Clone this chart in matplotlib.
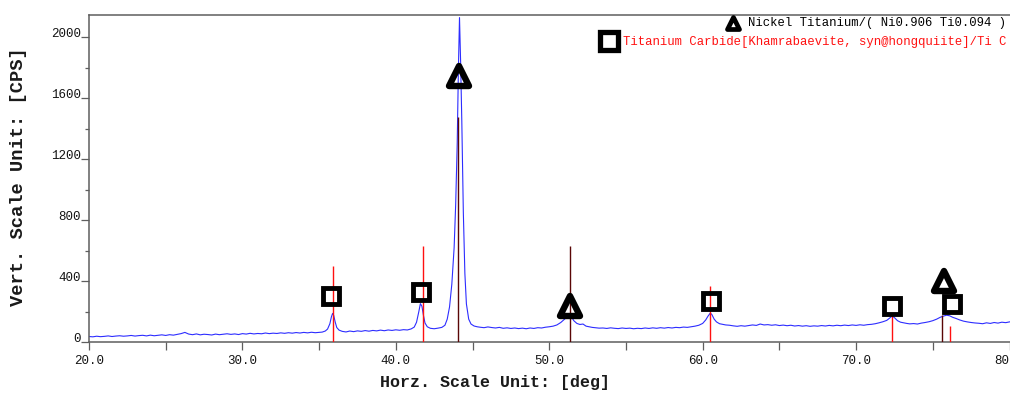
"""XRD pattern: NiTi / TiC phase identification."""

import matplotlib

matplotlib.use("Agg")
import matplotlib.pyplot as plt
import numpy as np
from matplotlib.markers import MarkerStyle

scan_deg = [
    20.0, 20.25, 20.5, 20.75, 21.0, 21.25, 21.5, 21.75, 22.0, 22.25,
    22.5, 22.75, 23.0, 23.25, 23.5, 23.75, 24.0, 24.25, 24.5, 24.75,
    25.0, 25.25, 25.5, 25.75, 26.0, 26.25, 26.5, 26.75, 27.0, 27.25,
    27.5, 27.75, 28.0, 28.25, 28.5, 28.75, 29.0, 29.25, 29.5, 29.75,
    30.0, 30.25, 30.5, 30.75, 31.0, 31.25, 31.5, 31.75, 32.0, 32.25,
    32.5, 32.75, 33.0, 33.25, 33.5, 33.75, 34.0, 34.25, 34.5, 34.75,
    35.0, 35.2, 35.4, 35.55, 35.7, 35.8, 35.88, 35.95, 36.05, 36.15,
    36.3, 36.5, 36.75, 37.0, 37.25, 37.5, 37.75, 38.0, 38.25, 38.5,
    38.75, 39.0, 39.25, 39.5, 39.75, 40.0, 40.25, 40.5, 40.75, 41.0,
    41.2, 41.35, 41.5, 41.6, 41.7, 41.8, 41.9, 42.05, 42.25, 42.5,
    42.75, 43.0, 43.2, 43.35, 43.5, 43.65, 43.8, 43.9, 44.0, 44.08,
    44.15, 44.22, 44.3, 44.4, 44.5, 44.6, 44.75, 44.9, 45.1, 45.3,
    45.5, 45.75, 46.0, 46.25, 46.5, 46.75, 47.0, 47.25, 47.5, 47.75,
    48.0, 48.25, 48.5, 48.75, 49.0, 49.25, 49.5, 49.75, 50.0, 50.25,
    50.5, 50.75, 51.0, 51.15, 51.3, 51.45, 51.6, 51.8, 52.0, 52.2,
    52.4, 52.6, 52.8, 53.0, 53.25, 53.5, 53.75, 54.0, 54.25, 54.5,
    54.75, 55.0, 55.25, 55.5, 55.75, 56.0, 56.25, 56.5, 56.75, 57.0,
    57.25, 57.5, 57.75, 58.0, 58.25, 58.5, 58.75, 59.0, 59.25, 59.5,
    59.75, 60.0, 60.2, 60.35, 60.5, 60.6, 60.75, 60.9, 61.1, 61.3,
    61.5, 61.75, 62.0, 62.25, 62.5, 62.75, 63.0, 63.25, 63.5, 63.75,
    64.0, 64.25, 64.5, 64.75, 65.0, 65.25, 65.5, 65.75, 66.0, 66.25,
    66.5, 66.75, 67.0, 67.25, 67.5, 67.75, 68.0, 68.25, 68.5, 68.75,
    69.0, 69.25, 69.5, 69.75, 70.0, 70.25, 70.5, 70.75, 71.0, 71.25,
    71.5, 71.75, 72.0, 72.2, 72.35, 72.5, 72.7, 72.9, 73.1, 73.3,
    73.5, 73.75, 74.0, 74.25, 74.5, 74.75, 75.0, 75.25, 75.5, 75.7,
    75.9, 76.1, 76.3, 76.5, 76.75, 77.0, 77.25, 77.5, 77.75, 78.0,
    78.25, 78.5, 78.75, 79.0, 79.25, 79.5, 79.75, 80.0,
]
scan_cps = [
    36, 34, 38, 35, 37, 40, 36, 39, 41, 38,
    40, 43, 39, 42, 44, 40, 45, 41, 44, 47,
    43, 48, 45, 50, 55, 63, 52, 48, 53, 47,
    51, 49, 46, 52, 48, 51, 54, 50, 53, 49,
    55, 52, 57, 53, 56, 54, 59, 55, 58, 56,
    60, 57, 61, 58, 62, 59, 63, 60, 64, 61,
    63, 65, 72, 85, 120, 165, 188, 175, 130, 95,
    78, 70, 66, 72, 68, 73, 70, 75, 71, 76,
    73, 78, 74, 79, 76, 80, 77, 81, 79, 86,
    98, 130, 200, 252, 235, 175, 125, 100, 90, 87,
    91, 96, 110, 150, 230, 380, 620, 900, 1300, 1800,
    2130, 1850, 1450, 850, 450, 250, 150, 118, 105, 100,
    97, 94, 99, 95, 92, 96, 90, 93, 89, 92,
    88, 91, 87, 92, 89, 94, 92, 97, 100, 104,
    112, 128, 150, 165, 178, 165, 140, 122, 115, 118,
    104, 100, 96, 94, 91, 92, 89, 93, 90, 88,
    92, 89, 91, 87, 90, 88, 92, 89, 93, 90,
    94, 91, 95, 92, 96, 94, 98, 96, 100, 104,
    110, 122, 145, 170, 190, 180, 150, 132, 120, 116,
    112, 110, 106, 103, 107, 104, 108, 112, 109, 118,
    112, 114, 110, 113, 108, 111, 107, 110, 105, 108,
    104, 107, 103, 106, 104, 108, 105, 109, 106, 110,
    107, 111, 108, 112, 109, 113, 110, 114, 116, 120,
    126, 133, 142, 158, 171, 160, 140, 130, 126, 122,
    119, 121, 118, 124, 128, 133, 140, 150, 163, 170,
    176, 172, 162, 155, 145, 137, 132, 128, 125, 123,
    120, 126, 122, 128, 124, 130, 127, 132,
]

# reference card lines
niti_ref_deg = [44.06, 51.34, 75.61]
niti_ref_cps = [1480, 630, 175]
tic_ref_deg = [35.92, 41.74, 60.46, 72.33, 76.11]
tic_ref_cps = [500, 630, 368, 175, 105]

# phase markers placed on the peaks
niti_mark_deg = [44.13, 51.38, 75.71]
niti_mark_cps = [1746, 236, 400]
tic_mark_deg = [35.78, 41.61, 60.57, 72.36, 76.25]
tic_mark_cps = [302, 330, 267, 234, 250]

niti_label = "Nickel Titanium/( Ni0.906 Ti0.094 )"
tic_label = "Titanium Carbide[Khamrabaevite, syn@hongquiite]/Ti C"

x_ticks = [20, 30, 40, 50, 60, 70, 80]
y_ticks = [0, 400, 800, 1200, 1600, 2000]

MONO = "Liberation Mono"
SPINE = "#5e5e5e"

fig = plt.figure(figsize=(10.1, 4.01), dpi=100)
ax = fig.add_axes([89 / 1010, 59 / 401, 920.5 / 1010, 327 / 401])

ax.plot(scan_deg, scan_cps, color="#2d2dff", lw=0.8, zorder=2)
ax.vlines(tic_ref_deg, 0, tic_ref_cps, colors="#ff1010", lw=1.0, zorder=3)
ax.vlines(niti_ref_deg, 0, niti_ref_cps, colors="#5a0606", lw=1.0, zorder=3)

tri = MarkerStyle("^", joinstyle="round")
ax.plot(niti_mark_deg, niti_mark_cps, ls="none", marker=tri, ms=13.8,
        mfc="none", mec="black", mew=4.6, zorder=5, clip_on=False)
ax.plot(tic_mark_deg, tic_mark_cps, ls="none", marker="s", ms=11.3,
        mfc="none", mec="black", mew=3.5, zorder=5, clip_on=False)

ax.set_xlim(20, 80)
ax.set_ylim(0, 2147)

ax.set_xticks(x_ticks)
ax.set_xticklabels([f"{v:.1f}" for v in x_ticks])
ax.set_xticks(np.arange(25, 80, 10), minor=True)
ax.set_yticks(y_ticks)
ax.set_yticklabels([str(v) for v in y_ticks])
ax.set_yticks(np.arange(200, 2147, 400), minor=True)

ax.tick_params(axis="x", which="both", direction="out", length=5.5,
               width=0.9, color=SPINE, pad=3.5, labelsize=9,
               labelcolor="#141414")
ax.tick_params(axis="y", which="major", direction="out", length=5.8,
               width=0.9, color=SPINE, pad=0, labelsize=9,
               labelcolor="#141414")
ax.tick_params(axis="y", which="minor", direction="out", length=2.9,
               width=0.9, color=SPINE)
for lbl in ax.get_xticklabels() + ax.get_yticklabels():
    lbl.set_fontfamily(MONO)
for lbl in ax.get_yticklabels():
    lbl.set_va("baseline")

for side in ("left", "bottom", "top"):
    ax.spines[side].set_color(SPINE)
    ax.spines[side].set_linewidth(1.1)
ax.spines["right"].set_visible(False)

ax.set_xlabel("Horz. Scale Unit: [deg]", fontfamily=MONO, fontsize=12,
              fontweight="bold", color="#1a1a1a", va="center")
ax.xaxis.set_label_coords((495.5 - 89) / 921, -41 / 327)
ax.set_ylabel("Vert. Scale Unit: [CPS]", fontfamily=MONO, fontsize=13.5,
              fontweight="bold", color="#1a1a1a", va="center")
ax.yaxis.set_label_coords((18.5 - 89) / 921, (342 - 176.7) / 327)

# phase legend, top right
ax.plot([(733 - 89) / 921], [(342 - 23) / 327], transform=ax.transAxes,
        marker=MarkerStyle("^", joinstyle="round"), ms=9.0, mfc="none",
        mec="black", mew=3.4, clip_on=False, zorder=6)
ax.text((748 - 89) / 921, (342 - 23) / 327, niti_label, transform=ax.transAxes,
        fontfamily=MONO, fontsize=8.8, color="black", va="center", ha="left")
ax.plot([(609 - 89) / 921], [(342 - 41) / 327], transform=ax.transAxes,
        marker="s", ms=12.5, mfc="white", mec="black", mew=3.8,
        clip_on=False, zorder=6)
ax.text((623 - 89) / 921, (342 - 42) / 327, tic_label, transform=ax.transAxes,
        fontfamily=MONO, fontsize=8.8, color="#ff1010", va="center", ha="left")

fig.savefig("out.png", dpi=100)
